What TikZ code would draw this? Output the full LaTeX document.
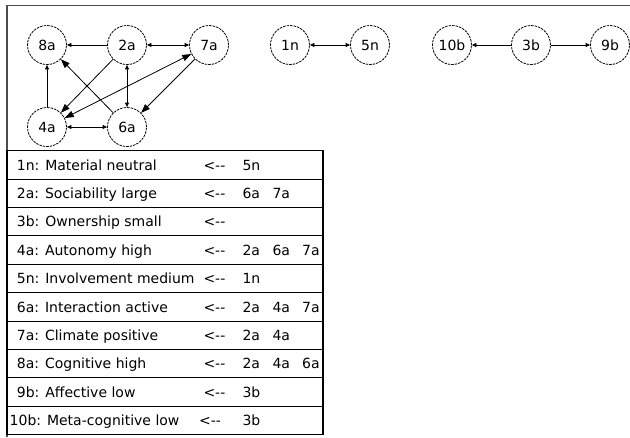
\documentclass[tikz,border=0pt]{standalone}
\usepackage{fontspec}
\setmainfont{DejaVu Sans}
\usetikzlibrary{arrows.meta}
\begin{document}
\begin{tikzpicture}[x=1pt,y=-1pt,
  state/.style={circle,draw,line width=0.8pt,dash pattern=on 2.5pt off 1pt,minimum size=39pt,inner sep=0pt,font=\fontsize{14}{16}\selectfont},
  sm/.style={line width=0.8pt,-{Triangle[length=4.5pt,width=4pt]}},
  smb/.style={line width=0.8pt,{Triangle[length=4.5pt,width=4pt]}-{Triangle[length=4.5pt,width=4pt]}},
  lg/.style={line width=0.8pt,-{Triangle[length=9pt,width=6.5pt]}},
  lgb/.style={line width=0.8pt,{Triangle[length=9pt,width=6.5pt]}-{Triangle[length=9pt,width=6.5pt]}},
  cell/.style={anchor=base west,inner sep=0pt,font=\fontsize{14}{16}\selectfont},
  rule/.style={line width=1.1pt},
  frame/.style={line width=1.2pt,black!70}
]
\useasboundingbox (0,0) rectangle (630,437);
\draw[frame] (7,437) -- (7,5.5) -- (630,5.5);
% nodes
\node[state] (n8a) at (47,45) {8a};
\node[state] (n2a) at (127,45) {2a};
\node[state] (n7a) at (209,45) {7a};
\node[state] (n4a) at (47,127) {4a};
\node[state] (n6a) at (127,127) {6a};
\node[state] (n1n) at (290,45) {1n};
\node[state] (n5n) at (370,45) {5n};
\node[state] (n10b) at (452,45) {10b};
\node[state] (n3b) at (531,45) {3b};
\node[state] (n9b) at (610,45) {9b};
% edges
\draw[sm] (n2a) -- (n8a);
\draw[smb] (n2a) -- (n7a);
\draw[smb] (n2a) -- (n6a);
\draw[smb] (n4a) -- (n6a);
\draw[sm] (n4a) -- (n8a);
\draw[lg] (n2a) -- (n4a);
\draw[lg] (n6a) -- (n8a);
\draw[lg] (n7a) -- (n6a);
\draw[lgb] (n4a) -- (n7a);
\draw[smb] (n1n) -- (n5n);
\draw[sm] (n3b) -- (n10b);
\draw[sm] (n3b) -- (n9b);
% table
\draw[rule] (7,150.7) rectangle (323,434.7);
\foreach \k in {1,...,9} \draw[rule] (7,150.7+28.4*\k) -- (323,150.7+28.4*\k);
\foreach \k/\lab/\srcs [count=\i] in {0/1n: Material neutral/5n,
  1/2a: Sociability large/6a,
  2/3b: Ownership small/,
  3/4a: Autonomy high/2a,
  4/5n: Involvement medium/1n,
  5/6a: Interaction active/2a,
  6/7a: Climate positive/2a,
  7/8a: Cognitive high/2a,
  8/9b: Affective low/3b} {
  \node[cell] (l\i) at (16.7,150.7+28.4*\k+19.3) {\lab};
  \node[cell] (a\i) at (203.3,150.7+28.4*\k+19.3) {<-{}-};
  \node[cell] (s\i) at (242.3,150.7+28.4*\k+19.3) {\srcs};
}
\node[cell] (l10) at (9.5,150.7+28.4*9+19.3) {10b: Meta-cognitive low};
\node[cell] (a10) at (199,150.7+28.4*9+19.3) {<-{}-};
\node[cell] (s10) at (242.3,150.7+28.4*9+19.3) {3b};
% extra source tokens
\node[cell] (s2b) at (272.3,150.7+28.4*1+19.3) {7a};
\node[cell] (s4b) at (272.3,150.7+28.4*3+19.3) {6a};
\node[cell] (s4c) at (302,150.7+28.4*3+19.3) {7a};
\node[cell] (s6b) at (272.3,150.7+28.4*5+19.3) {4a};
\node[cell] (s6c) at (302,150.7+28.4*5+19.3) {7a};
\node[cell] (s7b) at (272.3,150.7+28.4*6+19.3) {4a};
\node[cell] (s8b) at (272.3,150.7+28.4*7+19.3) {4a};
\node[cell] (s8c) at (302,150.7+28.4*7+19.3) {6a};
\end{tikzpicture}
\end{document}
